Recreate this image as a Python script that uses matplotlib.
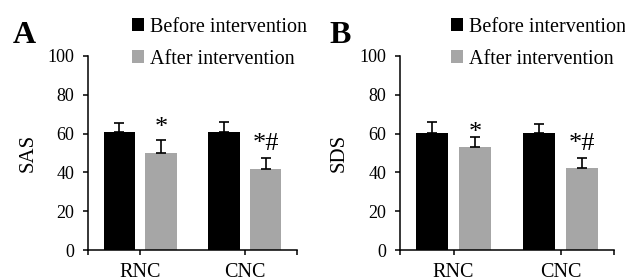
import numpy as np
import matplotlib.pyplot as plt

plt.rcParams['font.family'] = ['Liberation Serif', 'DejaVu Serif']

# Dados
grupos = ['RNC', 'CNC']
series = ['Before intervention', 'After intervention']

sas_antes = [60.7, 60.7]
sas_antes_dp = [4.6, 5.3]
sas_depois = [50.2, 41.6]
sas_depois_dp = [6.3, 5.7]
sas_sig = ['*', '*#']
sas_sig_y = [63, 54.5]

sds_antes = [60.5, 60.5]
sds_antes_dp = [5.5, 4.5]
sds_depois = [53.0, 42.5]
sds_depois_dp = [5.0, 4.8]
sds_sig = ['*', '*#']
sds_sig_y = [60.5, 54.5]

cores = ['#000000', '#a6a6a6']

fig = plt.figure(figsize=(6.25, 2.8), dpi=100)


def painel(pos, letra, letra_x, ylabel, antes, antes_dp, depois, depois_dp, sig, sig_y, leg_x):
    ax = fig.add_axes(pos)
    x = np.arange(len(grupos))
    w = 0.3
    for dx, vals, dp, cor, nome in [(-0.2, antes, antes_dp, cores[0], series[0]),
                                    (0.2, depois, depois_dp, cores[1], series[1])]:
        ax.bar(x + dx, vals, width=w, color=cor, label=nome, zorder=2)
        ax.errorbar(x + dx, vals, yerr=[np.zeros(len(vals)), dp], fmt='none',
                    ecolor='black', elinewidth=1.2, capsize=3.8, capthick=1.2, zorder=3)
    for xi, s, yi in zip(x, sig, sig_y):
        ax.text(xi + 0.2, yi, s, ha='center', va='center', fontsize=19)

    ax.set_xlim(-0.5, 1.5)
    ax.set_ylim(0, 100)
    ax.set_yticks(range(0, 101, 20))
    ax.set_xticks(x)
    ax.set_xticklabels(grupos)
    ax.set_xticks([-0.5, 1.5], minor=True)
    ax.tick_params(axis='both', which='both', direction='out', length=3.5, width=1.1)
    ax.tick_params(axis='y', labelsize=13, pad=6.5)
    ax.tick_params(axis='x', labelsize=14.5, pad=6)
    for lado in ['top', 'right']:
        ax.spines[lado].set_visible(False)
    for lado in ['left', 'bottom']:
        ax.spines[lado].set_linewidth(1.1)
    ax.set_ylabel(ylabel, fontsize=15)
    ax.yaxis.set_label_coords(-0.24, 0.5)

    fig.text(letra_x, 0.846, letra, fontsize=23, fontweight='bold', va='baseline')
    ax.legend(loc='upper left', bbox_to_anchor=(leg_x, 0.937), bbox_transform=fig.transFigure,
              frameon=False, fontsize=14.5, handlelength=0.6, handleheight=0.6,
              handletextpad=0.3, labelspacing=0.65, borderpad=0, borderaxespad=0)
    return ax


painel([0.1408, 0.1071, 0.3344, 0.693], 'A', 0.021, 'SAS',
       sas_antes, sas_antes_dp, sas_depois, sas_depois_dp, sas_sig, sas_sig_y, 0.211)
painel([0.64, 0.1071, 0.3424, 0.693], 'B', 0.527, 'SDS',
       sds_antes, sds_antes_dp, sds_depois, sds_depois_dp, sds_sig, sds_sig_y, 0.721)

fig.savefig('out.png', dpi=100)
